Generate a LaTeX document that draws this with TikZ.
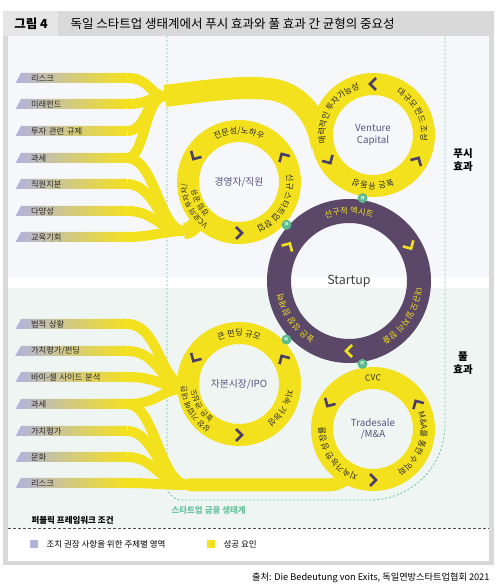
\documentclass[tikz,border=0pt]{standalone}
\usepackage{fontspec}
\setmainfont{Noto Sans CJK KR}
\usetikzlibrary{shapes.geometric,%
                decorations.text,%
                calc}

\definecolor{framegray}{HTML}{D9D9D9}
\definecolor{tabgray}{HTML}{E6E6E6}
\definecolor{bgtop}{HTML}{F6F7FB}
\definecolor{bgbot}{HTML}{EEF5F2}
\definecolor{lav}{HTML}{B2B3DE}
\definecolor{flowyel}{HTML}{F4E11E}
\definecolor{hubpurple}{HTML}{5B4768}
\definecolor{chevdark}{HTML}{4B3D6B}
\definecolor{dotgreen}{HTML}{5DB98C}
\definecolor{dashgreen}{HTML}{6CC3A0}
\definecolor{inktext}{HTML}{2A2A2A}
\definecolor{ringink}{HTML}{5A5282}

\newcommand\lblfont{\fontsize{8.3}{9}\selectfont}
\newcommand\ringfont{\fontsize{8.3}{9}\selectfont}
\newcommand\twofont{\fontsize{7.4}{8}\selectfont}
\newcommand\midfont{\fontsize{9.8}{11.5}\selectfont}

\begin{document}
\begin{tikzpicture}[x=1pt, y=1pt,
lbl/.style={trapezium, trapezium left angle=60, trapezium right angle=90,
trapezium stretches=true, minimum width=112pt, minimum height=10pt,
inner sep=0pt, left color=lav, right color=flowyel, text=inktext,
text width=86pt, align=left, font=\lblfont},
%
flow/.style={draw=flowyel, line width=10pt},
%
trunk/.style={draw=flowyel, line width=#1},
%
ring/.style={circle, draw=flowyel, line width=22pt, minimum size=102pt,
inner sep=0pt, text=ringink, align=center, font=\midfont},
%
hub/.style={circle, draw=hubpurple, line width=24pt, minimum size=140pt,
inner sep=0pt, text=black!75, font=\fontsize{12.5}{14}\selectfont},
%
arctext/.style={decorate, decoration={text along path, text align=center,
text={#1}}},
%
gdot/.style={circle, fill=dotgreen, text=white, inner sep=0pt,
minimum size=10pt, font=\fontsize{8}{8}\selectfont\bfseries},
%
sidelbl/.style={align=center, font=\fontsize{10.5}{12.5}\selectfont\bfseries},
%
chev/.pic={\draw[line width=2.6pt, line join=miter] (-3,6) -- (3,0) -- (-3,-6);}]

\useasboundingbox (0,0) rectangle (500,587);

% frame and panels
\fill[framegray] (3,22) rectangle (494,576);
\fill[tabgray] (3,551) rectangle (58,576);
\fill[bgtop] (8,310) rectangle (489,551);
\fill[white] (8,299) rectangle (489,310);
\fill[bgbot] (8,59) rectangle (489,299);
\fill[white] (8,26) rectangle (489,59);

\node[font=\fontsize{12.5}{14}\selectfont\bfseries] (fig) at (31,563.5) {그림 4};
\node[anchor=west, font=\fontsize{12.5}{14}\selectfont] (title) at (67,563.5)
  {독일 스타트업 생태계에서 푸시 효과와 풀 효과 간 균형의 중요성};

% financing ecosystem border
\draw[dashgreen, line width=0.8pt, dash pattern=on 2pt off 2pt]
  (167,551) -- (167,102) arc[start angle=180, end angle=270, radius=15]
  -- (370,87) arc[start angle=270, end angle=360, radius=75] -- (445,551);

%%%%%%%%%%%%%%%%%%%%%%%%%%%%%%%%%%%%%
\begin{scope}
  \node[lbl] (u1) at (74,509) {리스크};
  \node[lbl] (u2) at (74,483) {미래펀드};
  \node[lbl] (u3) at (74,456) {투자 관련 규제};
  \node[lbl] (u4) at (74,429) {과세};
  \node[lbl] (u5) at (74,403) {직원지분};
  \node[lbl] (u6) at (74,376) {다양성};
  \node[lbl] (u7) at (74,350) {교육기회};
  %%%%%%%%%%%%%%%%%%%%%%%%%%%%%%%%%%%
  \node[lbl] (l1) at (74,263) {법적 상황};
  \node[lbl] (l2) at (74,236) {가치평가/펀딩};
  \node[lbl] (l3) at (74,210) {바이-셀 사이드 분석};
  \node[lbl] (l4) at (74,183) {과세};
  \node[lbl] (l5) at (74,156) {가치평가};
  \node[lbl] (l6) at (74,130) {문화};
  \node[lbl] (l7) at (74,104) {리스크};
\end{scope}

\coordinate (vcin) at (165,491);
\coordinate (vcbend) at (275,497);
\coordinate (vcend) at (322,440);
\coordinate (mgin) at (184,356);
\coordinate (mgend) at (200,372);
\coordinate (ipoin) at (190,199);
\coordinate (trin) at (188,102);
\coordinate (trbend) at (325,102);
\coordinate (trend) at (350,115);

\begin{scope}
  \draw[flow](u1.east) .. controls (150,509) and (150,491) .. (vcin);
  \draw[flow](u2.east) .. controls (150,483) and (150,491) .. (vcin);
  \draw[flow](u3.east) .. controls (148,456) and (145,491) .. (vcin);
  \draw[flow](u4.east) .. controls (145,429) and (145,491) .. (vcin);
  \draw[trunk=22pt](vcin) .. controls (210,497) and (250,502) .. (vcbend)
    .. controls (300,492) and (318,470) .. (vcend);
  %%%%%%%%%%%%%%%%%%%%%%%%%%%%%%%%%%%
  \draw[flow](u4.east) .. controls (155,429) and (160,356) .. (mgin);
  \draw[flow](u5.east) .. controls (155,403) and (160,356) .. (mgin);
  \draw[flow](u6.east) .. controls (155,376) and (160,356) .. (mgin);
  \draw[flow](u7.east) .. controls (150,350) and (165,356) .. (mgin);
  \draw[trunk=16pt](mgin) .. controls (192,356) and (196,362) .. (mgend);
  %%%%%%%%%%%%%%%%%%%%%%%%%%%%%%%%%%%
  \draw[flow](l1.east) .. controls (160,263) and (160,199) .. (ipoin);
  \draw[flow](l2.east) .. controls (160,236) and (160,199) .. (ipoin);
  \draw[flow](l3.east) .. controls (160,210) and (160,199) .. (ipoin);
  \draw[flow](l4.east) .. controls (160,183) and (160,199) .. (ipoin);
  %%%%%%%%%%%%%%%%%%%%%%%%%%%%%%%%%%%
  \draw[flow](l4.east) .. controls (155,183) and (160,102) .. (trin);
  \draw[flow](l5.east) .. controls (155,156) and (160,102) .. (trin);
  \draw[flow](l6.east) .. controls (155,130) and (160,102) .. (trin);
  \draw[flow](l7.east) .. controls (150,104) and (165,102) .. (trin);
  \draw[trunk=13pt](trin) -- (trbend) .. controls (338,102) and (346,106) .. (trend);
\end{scope}

% rings
\node[ring, fill=bgtop] (mgmt) at (239,405) {경영자/직원};
\node[ring, fill=bgtop] (vc) at (373,452) {Venture\\Capital};
\node[hub] (start) at (349,306) {Startup};
\node[ring, fill=bgbot] (ipo) at (239,203) {자본시장/IPO};
\node[ring, fill=bgbot] (trade) at (373,158) {Tradesale\\/M\&A};

% texts on the rings
\path[arctext={|\ringfont\color{inktext}|전문성/노하우}]
  ([shift={(150:48)}]mgmt.center) arc[start angle=150, end angle=30, radius=48];
\path[arctext={|\ringfont\color{inktext}|신규 스타트업 창업}]
  ([shift={(30:48)}]mgmt.center) arc[start angle=30, end angle=-90, radius=48];
\path[arctext={|\twofont\color{inktext}|VC로의 투자자/}]
  ([shift={(270:52.5)}]mgmt.center) arc[start angle=270, end angle=146, radius=52.5];
\path[arctext={|\twofont\color{inktext}|경험 공유}]
  ([shift={(270:43)}]mgmt.center) arc[start angle=270, end angle=146, radius=43];
%%%%%%%%%%%%%%%%%%%%%%%%%%%%%%%%%%%%%
\path[arctext={|\ringfont\color{inktext}|매력적인 투자가능성}]
  ([shift={(210:48)}]vc.center) arc[start angle=210, end angle=86, radius=48];
\path[arctext={|\ringfont\color{inktext}|대규모 펀드 조성}]
  ([shift={(87:48)}]vc.center) arc[start angle=87, end angle=-33, radius=48];
\path[arctext={|\ringfont\color{inktext}|높은 유동성}]
  ([shift={(330:48)}]vc.center) arc[start angle=330, end angle=210, radius=48];
%%%%%%%%%%%%%%%%%%%%%%%%%%%%%%%%%%%%%
\path[arctext={|\ringfont\color{flowyel}|선구적 엑시트}]
  ([shift={(150:67)}]start.center) arc[start angle=150, end angle=30, radius=67];
\path[arctext={|\ringfont\color{flowyel}|대규모 일자리 창출}]
  ([shift={(27:67)}]start.center) arc[start angle=27, end angle=-93, radius=67];
\path[arctext={|\ringfont\color{flowyel}|높은 성장 잠재력}]
  ([shift={(275:67)}]start.center) arc[start angle=275, end angle=155, radius=67];
%%%%%%%%%%%%%%%%%%%%%%%%%%%%%%%%%%%%%
\path[arctext={|\ringfont\color{inktext}|큰 펀딩 규모}]
  ([shift={(150:48)}]ipo.center) arc[start angle=150, end angle=30, radius=48];
\path[arctext={|\ringfont\color{inktext}|지속 가능성}]
  ([shift={(30:48)}]ipo.center) arc[start angle=30, end angle=-90, radius=48];
\path[arctext={|\twofont\color{inktext}|상장 기업에 대한}]
  ([shift={(270:52.5)}]ipo.center) arc[start angle=270, end angle=150, radius=52.5];
\path[arctext={|\twofont\color{inktext}|높은 관심도}]
  ([shift={(270:43)}]ipo.center) arc[start angle=270, end angle=150, radius=43];
%%%%%%%%%%%%%%%%%%%%%%%%%%%%%%%%%%%%%
\path[arctext={|\ringfont\color{inktext}|CVC}]
  ([shift={(150:48)}]trade.center) arc[start angle=150, end angle=30, radius=48];
\path[arctext={|\ringfont\color{inktext}|M{\&}A를 통한 수익화}]
  ([shift={(40:48)}]trade.center) arc[start angle=40, end angle=-80, radius=48];
\path[arctext={|\ringfont\color{inktext}|지속가능한 성장률}]
  ([shift={(275:48)}]trade.center) arc[start angle=275, end angle=155, radius=48];

% direction marks
\pic[chevdark, rotate=240] at ([shift={(150:51)}]mgmt.center) {chev};
\pic[chevdark, rotate=120] at ([shift={(30:51)}]mgmt.center) {chev};
\pic[chevdark, rotate=0] at ([shift={(270:51)}]mgmt.center) {chev};
\pic[chevdark, rotate=180] at ([shift={(90:51)}]vc.center) {chev};
\pic[chevdark, rotate=300] at ([shift={(210:51)}]vc.center) {chev};
\pic[chevdark, rotate=60] at ([shift={(330:51)}]vc.center) {chev};
\pic[flowyel, rotate=60] at ([shift={(150:70)}]start.center) {chev};
\pic[flowyel, rotate=-60] at ([shift={(30:70)}]start.center) {chev};
\pic[flowyel, rotate=180] at ([shift={(270:70)}]start.center) {chev};
\pic[chevdark, rotate=240] at ([shift={(150:51)}]ipo.center) {chev};
\pic[chevdark, rotate=120] at ([shift={(30:51)}]ipo.center) {chev};
\pic[chevdark, rotate=0] at ([shift={(270:51)}]ipo.center) {chev};
\pic[chevdark, rotate=240] at ([shift={(150:51)}]trade.center) {chev};
\pic[chevdark, rotate=120] at ([shift={(30:51)}]trade.center) {chev};
\pic[chevdark, rotate=0] at ([shift={(270:51)}]trade.center) {chev};

% links between the rings
\node[gdot] (d1) at ($(mgmt.center)!64pt!(start.center)$) {»};
\node[gdot] (d2) at ($(vc.center)!64pt!(start.center)$) {»};
\node[gdot] (d3) at ($(ipo.center)!65pt!(start.center)$) {«};
\node[gdot] (d4) at ($(trade.center)!66pt!(start.center)$) {«};

\node[sidelbl] (push) at (463,427) {푸시\\효과};
\node[sidelbl] (pull) at (463,224) {풀\\효과};

% bottom part
\node[anchor=west, text=dashgreen, font=\fontsize{8.5}{10}\selectfont\bfseries] (eco) at (168,77) {스타트업 금융 생태계};
\node[anchor=west, font=\fontsize{8.5}{10}\selectfont\bfseries] (pub) at (28,67) {퍼블릭 프레임워크 조건};
\draw[black!70, line width=0.6pt, dash pattern=on 3pt off 2pt] (8,59) -- (489,59);

\node[fill=lav, minimum size=8pt, inner sep=0pt] (keylav) at (34,42.5) {};
\node[anchor=west, font=\fontsize{8.5}{10}\selectfont] (keylavtxt) at (43,42.5) {조치 권장 사항을 위한 주제별 영역};
\node[fill=flowyel, minimum size=8pt, inner sep=0pt] (keyyel) at (211,42.5) {};
\node[anchor=west, font=\fontsize{8.5}{10}\selectfont] (keyyeltxt) at (220,42.5) {성공 요인};

\node[anchor=east, font=\fontsize{9.2}{10}\selectfont] (src) at (493,9) {출처: Die Bedeutung von Exits, 독일연방스타트업협회 2021};

\end{tikzpicture}
\end{document}
